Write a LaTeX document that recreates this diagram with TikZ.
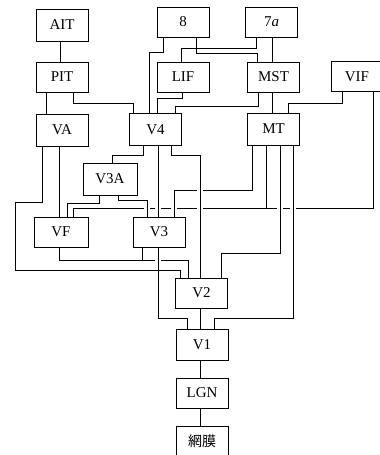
\documentclass[tikz,border=0pt]{standalone}
\usepackage{fontspec}
\setmainfont{Liberation Serif}
\newfontfamily\cjk{Noto Sans CJK JP}
\usetikzlibrary{positioning, backgrounds}

\begin{document}
\begin{tikzpicture}[
  x=1pt, y=-1pt,
  font=\fontsize{15}{17}\selectfont,
  node distance = 17pt,
  area/.style={draw, line width=1pt, minimum width=52pt,
               minimum height=30pt, inner sep=0pt},
  wire/.style={line width=0.8pt},
  over/.style={wire, preaction={draw=white, line width=6pt}}
]
\useasboundingbox (0,0) rectangle (380,455);
\clip (0,0) rectangle (380,455);

% ---------------- Ventral areas ----------------
\node[area, minimum height=32pt] (ait) at (62,25) {AIT};
\node[area] (pit) at (62,77) {PIT};
\node[area, minimum height=32pt] (va) at (62,130) {VA};

% ---------------- Parietal / upper areas ----------------
\node[area] (a8)  at (183,22)   {8};
\node[area] (a7a) at (271.5,22) {7\textit{a}};
\node[area] (lif) at (183,77)   {LIF};
\node[area] (mst) at (273.5,77) {MST};
\node[area] (vif) at (357,76.5) {VIF};

% ---------------- Middle areas ----------------
\node[area, minimum height=32pt] (v4)  at (155.5,129.5) {V4};
\node[area, minimum height=32pt] (mt)  at (273.5,129)   {MT};
\node[area, minimum height=32pt, minimum width=54pt] (v3a) at (110,179) {V3A};
\node[area, minimum width=54pt] (vf) at (61,232)  {VF};
\node[area] (v3) at (159,232) {V3};

% ---------------- Early chain ----------------
\node[area] (v2) at (201.5,293) {V2};
\node[area, minimum height=31pt] (v1) at (202,344.5) {V1};
\node[area, below=of v1] (lgn) {LGN};
\node[area, minimum height=31pt, below=of lgn,
      font=\cjk\fontsize{14}{16}\selectfont] (ret) {網膜};

% free ends on the shared lines
\coordinate (mtjoin) at (266,208);
\coordinate (v3join) at (142,260);

% ---------------- Connections ----------------
\begin{scope}[on background layer, wire]
  % shared lines (broken where others cross them)
  \draw (vif.south -| 373,0) |- (73,208) -- (vf.north -| 73,0);
  \draw (mt.south -| 266,0) -- (mtjoin);
  \draw (vf.south -| 59,0) |- (188,260) -- (v2.north -| 188,0);
  \draw (v3.south -| 142,0) -- (v3join);

  % top rows
  \draw (ait.south -| 60,0) -- (pit.north -| 60,0);
  \draw (pit.south -| 46,0) -- (va.north -| 46,0);
  \draw (pit.south -| 73,0) |- (133,103) -- (v4.north -| 133,0);
  \draw (a8.south -| 163,0) |- (149,52) -- (v4.north -| 149,0);
  \draw (a8.south -| 196,0) |- (257,53) -- (mst.north -| 257,0);
  \draw (a7a.south -| 256,0) |- (181,48) -- (lif.north -| 181,0);
  \draw (a7a.south -| 272,0) -- (mst.north -| 272,0);
  \draw (lif.south -| 182,0) |- (157,98) -- (v4.north -| 157,0);
  \draw (mst.south -| 258,0) |- (175,106) -- (v4.north -| 175,0);
  \draw (mst.south -| 272,0) -- (mt.north -| 272,0);
  \draw (vif.south -| 342,0) |- (288,103) -- (mt.north -| 288,0);

  % V4, MT, V3A downwards
  \draw (v4.south -| 143,0) |- (112,155) -- (v3a.north -| 112,0);
  \draw (va.south -| 59,0) -- (vf.north -| 59,0);
  \draw (v3a.south -| 99,0) |- (67,203) -- (vf.north -| 67,0);
  \draw[over] (v3a.south -| 118,0) |- (147,200) -- (v3.north -| 147,0);
  \draw[over] (v4.south -| 158,0) -- (v3.north -| 158,0);
  \draw[over] (mt.south -| 252,0) |- (174,190) -- (v3.north -| 174,0);
  \draw[over] (v4.south -| 171,0) |- (200,155) -- (v2.north -| 200,0);
  \draw[over] (mt.south -| 280,0) |- (221,253) -- (v2.north -| 221,0);
  \draw[over] (mt.south -| 293,0) |- (214,318) -- (v1.north -| 214,0);
  \draw[over] (v3.south -| 158,0) |- (187,318) -- (v1.north -| 187,0);
  \draw (va.south -| 42,0) |- (15,202) |- (180,270) -- (v2.north -| 180,0);

  % V2 to the retina
  \draw (v2.south -| 200,0) -- (v1.north -| 200,0);
  \draw (v1.south -| 200,0) -- (lgn.north -| 200,0);
  \draw (lgn.south -| 200,0) -- (ret.north -| 200,0);
\end{scope}

\end{tikzpicture}
\end{document}
